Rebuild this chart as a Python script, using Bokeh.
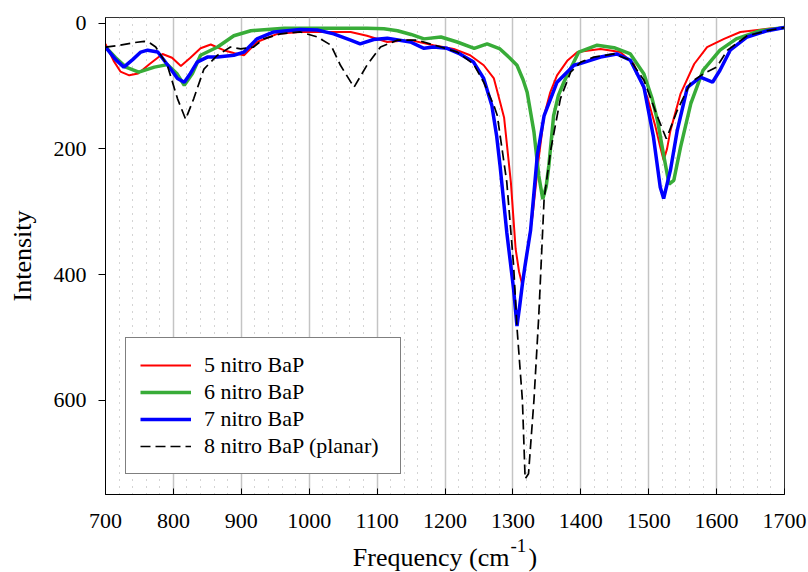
from bokeh.plotting import figure
from bokeh.models import Range1d, FixedTicker, Legend, LegendItem, Label
from bokeh.layouts import column
from bokeh.embed import file_html
from bokeh.resources import INLINE

# ---------------- data ----------------
x_ticks = [700, 800, 900, 1000, 1100, 1200, 1300, 1400, 1500, 1600, 1700]
x_minor = [v for v in range(700, 1701, 20) if v % 100 != 0]
y_ticks = [0, 200, 400, 600]

names = ["5 nitro BaP", "6 nitro BaP", "7 nitro BaP", "8 nitro BaP (planar)"]
x_title = "Frequency (cm"
x_title_sup = "-1"
x_title_end = ")"
y_title = "Intensity"

red_x = [700, 712, 722, 735, 748, 765, 784, 798, 811, 825, 840, 855, 874, 890, 904,
         923, 953, 987, 1030, 1061, 1085, 1115, 1149, 1183, 1213, 1237, 1257, 1272,
         1281, 1287, 1297, 1304, 1309, 1314, 1320, 1329, 1338, 1346, 1355, 1365, 1380,
         1395, 1429, 1458, 1478, 1498, 1510, 1517, 1522, 1527, 1532, 1547, 1567, 1586,
         1611, 1635, 1675, 1700]
red_y = [33, 60, 77, 83, 80, 65, 49, 55, 68, 55, 40, 34, 43, 48, 51,
         30, 17, 14, 14, 14, 20, 30, 27, 35, 41, 51, 67, 88,
         125, 150, 253, 359, 395, 417, 370, 306, 215, 147, 110, 83, 60,
         46, 41, 46, 65, 118, 165, 197, 218, 200, 171, 112, 65, 38,
         25, 14, 9, 7]

green_x = [700, 715, 730, 749, 772, 791, 805, 816, 828, 840, 865, 889, 914, 963, 1002,
           1085, 1110, 1130, 1150, 1169, 1194, 1218, 1243, 1262, 1281, 1295, 1306, 1315,
           1321, 1331, 1338, 1344, 1349, 1353, 1360, 1367, 1375, 1397, 1424, 1449, 1473,
           1493, 1505, 1513, 1522, 1530, 1537, 1547, 1562, 1580, 1605, 1629, 1664, 1700]
green_y = [38, 55, 70, 78, 70, 66, 80, 99, 80, 51, 38, 20, 12, 8, 8,
           8, 9, 12, 18, 25, 22, 30, 40, 33, 41, 55, 67, 90,
           110, 173, 242, 280, 260, 226, 147, 115, 94, 46, 35, 39, 49,
           81, 120, 155, 210, 256, 250, 197, 128, 75, 43, 25, 12, 7]

blue_x = [700, 715, 727, 740, 752, 762, 777, 796, 806, 816, 825, 835, 850, 865, 889,
          904, 923, 948, 987, 1012, 1036, 1061, 1075, 1095, 1115, 1149, 1169, 1183, 1203,
          1222, 1242, 1257, 1269, 1276, 1281, 1291, 1301, 1306, 1310, 1314, 1318, 1326,
          1336, 1346, 1365, 1390, 1400, 1429, 1453, 1473, 1493, 1507, 1517, 1522, 1532,
          1542, 1557, 1576, 1594, 1605, 1620, 1645, 1675, 1700]
blue_y = [38, 58, 70, 58, 46, 43, 46, 73, 88, 94, 80, 62, 54, 54, 51,
          46, 25, 14, 10, 11, 17, 27, 33, 26, 24, 30, 40, 38, 40,
          49, 62, 88, 131, 179, 226, 333, 423, 482, 450, 415, 385, 330,
          210, 147, 94, 67, 64, 54, 49, 59, 102, 181, 261, 279, 234,
          171, 102, 86, 94, 75, 43, 22, 12, 7]

black_x = [700, 722, 742, 757, 766, 774, 791, 806, 818, 830, 845, 865, 884, 899, 918,
           933, 958, 987, 1012, 1032, 1046, 1066, 1085, 1105, 1130, 1159, 1194, 1218,
           1242, 1257, 1272, 1277, 1291, 1301, 1306, 1314, 1318, 1323, 1331, 1338, 1346,
           1356, 1370, 1385, 1400, 1419, 1449, 1473, 1493, 1513, 1526, 1542, 1562, 1580,
           1600, 1616, 1645, 1675, 1700]
black_y = [38, 35, 31, 29, 32, 38, 67, 120, 153, 120, 73, 51, 38, 41, 38,
           25, 17, 14, 22, 35, 67, 102, 67, 38, 27, 27, 38, 46,
           65, 94, 131, 147, 253, 385, 484, 600, 725, 717, 600, 468, 279,
           200, 120, 78, 62, 54, 49, 59, 91, 149, 184, 139, 94, 81,
           70, 43, 20, 12, 7]

SERIF = "Liberation Serif"

# ---------------- main figure ----------------
p = figure(width=808, height=536,
           x_range=Range1d(700, 1700), y_range=Range1d(750, -9),
           output_backend="svg", toolbar_location=None,
           min_border_left=105, min_border_right=24,
           min_border_top=17, min_border_bottom=42)
p.background_fill_color = "white"
p.border_fill_color = "white"
p.outline_line_color = "#333333"
p.outline_line_width = 1

xt = FixedTicker(ticks=x_ticks, minor_ticks=x_minor)
p.xaxis.ticker = xt
p.xgrid.ticker = xt
p.yaxis.ticker = FixedTicker(ticks=y_ticks)

p.ygrid.visible = False
p.xgrid.grid_line_color = "#c4c4c4"
p.xgrid.grid_line_width = 1.5
p.xgrid.minor_grid_line_color = "#a8a8a8"
p.xgrid.minor_grid_line_dash = "1 6"
p.xgrid.minor_grid_line_width = 1

for ax in (p.xaxis[0], p.yaxis[0]):
    ax.axis_line_color = "black"
    ax.major_tick_line_color = "black"
    ax.minor_tick_line_color = None
    ax.major_label_text_font = SERIF
    ax.major_label_text_font_size = "22px"
    ax.major_label_text_color = "black"

p.xaxis.major_tick_in = 6
p.xaxis.major_tick_out = 0
p.xaxis.major_label_standoff = 15
p.yaxis.major_tick_in = 0
p.yaxis.major_tick_out = 7
p.yaxis.major_label_standoff = 12

p.yaxis.axis_label = y_title
p.yaxis.axis_label_text_font = SERIF
p.yaxis.axis_label_text_font_size = "26px"
p.yaxis.axis_label_text_font_style = "normal"
p.yaxis.axis_label_text_color = "black"
p.yaxis.axis_label_standoff = 14

r_red = p.line(red_x, red_y, line_color="#ff0000", line_width=2)
r_green = p.line(green_x, green_y, line_color="#38ac38", line_width=3.5)
r_blue = p.line(blue_x, blue_y, line_color="#0000ff", line_width=3.5)
r_black = p.line(black_x, black_y, line_color="black", line_width=1.7, line_dash="10 5")

legend = Legend(items=[LegendItem(label=names[0], renderers=[r_red]),
                       LegendItem(label=names[1], renderers=[r_green]),
                       LegendItem(label=names[2], renderers=[r_blue]),
                       LegendItem(label=names[3], renderers=[r_black])],
                location=(20, 20))
legend.border_line_color = "black"
legend.border_line_width = 1
legend.background_fill_color = "white"
legend.background_fill_alpha = 1.0
legend.label_text_font = SERIF
legend.label_text_font_size = "22px"
legend.label_text_color = "black"
legend.glyph_width = 51
legend.glyph_height = 22
legend.label_height = 22
legend.label_width = 182
legend.label_standoff = 13
legend.spacing = 1
legend.padding = 14
legend.margin = 0
p.add_layout(legend)

# ---------------- strip below for the x-axis title (with superscript) ----------------
# its frame spans the same horizontal extent as the main plot's frame
p2 = figure(width=808, height=36, x_range=Range1d(105, 784), y_range=Range1d(572, 536),
            x_axis_type=None, y_axis_type=None, title_location=None,
            output_backend="svg", toolbar_location=None,
            min_border_left=105, min_border_right=24,
            min_border_top=0, min_border_bottom=0)
p2.outline_line_color = None
p2.background_fill_color = "white"
p2.border_fill_color = "white"

p2.add_layout(Label(x=509, y=557, text=x_title, text_align="right",
                    text_baseline="alphabetic", text_font=SERIF,
                    text_font_size="26px", text_color="black"))
p2.add_layout(Label(x=510, y=545, text=x_title_sup, text_align="left",
                    text_baseline="alphabetic", text_font=SERIF,
                    text_font_size="19px", text_color="black"))
p2.add_layout(Label(x=528, y=557, text=x_title_end, text_align="left",
                    text_baseline="alphabetic", text_font=SERIF,
                    text_font_size="26px", text_color="black"))

layout = column(p, p2, spacing=0)
open("out.html", "w").write(file_html(layout, INLINE))
